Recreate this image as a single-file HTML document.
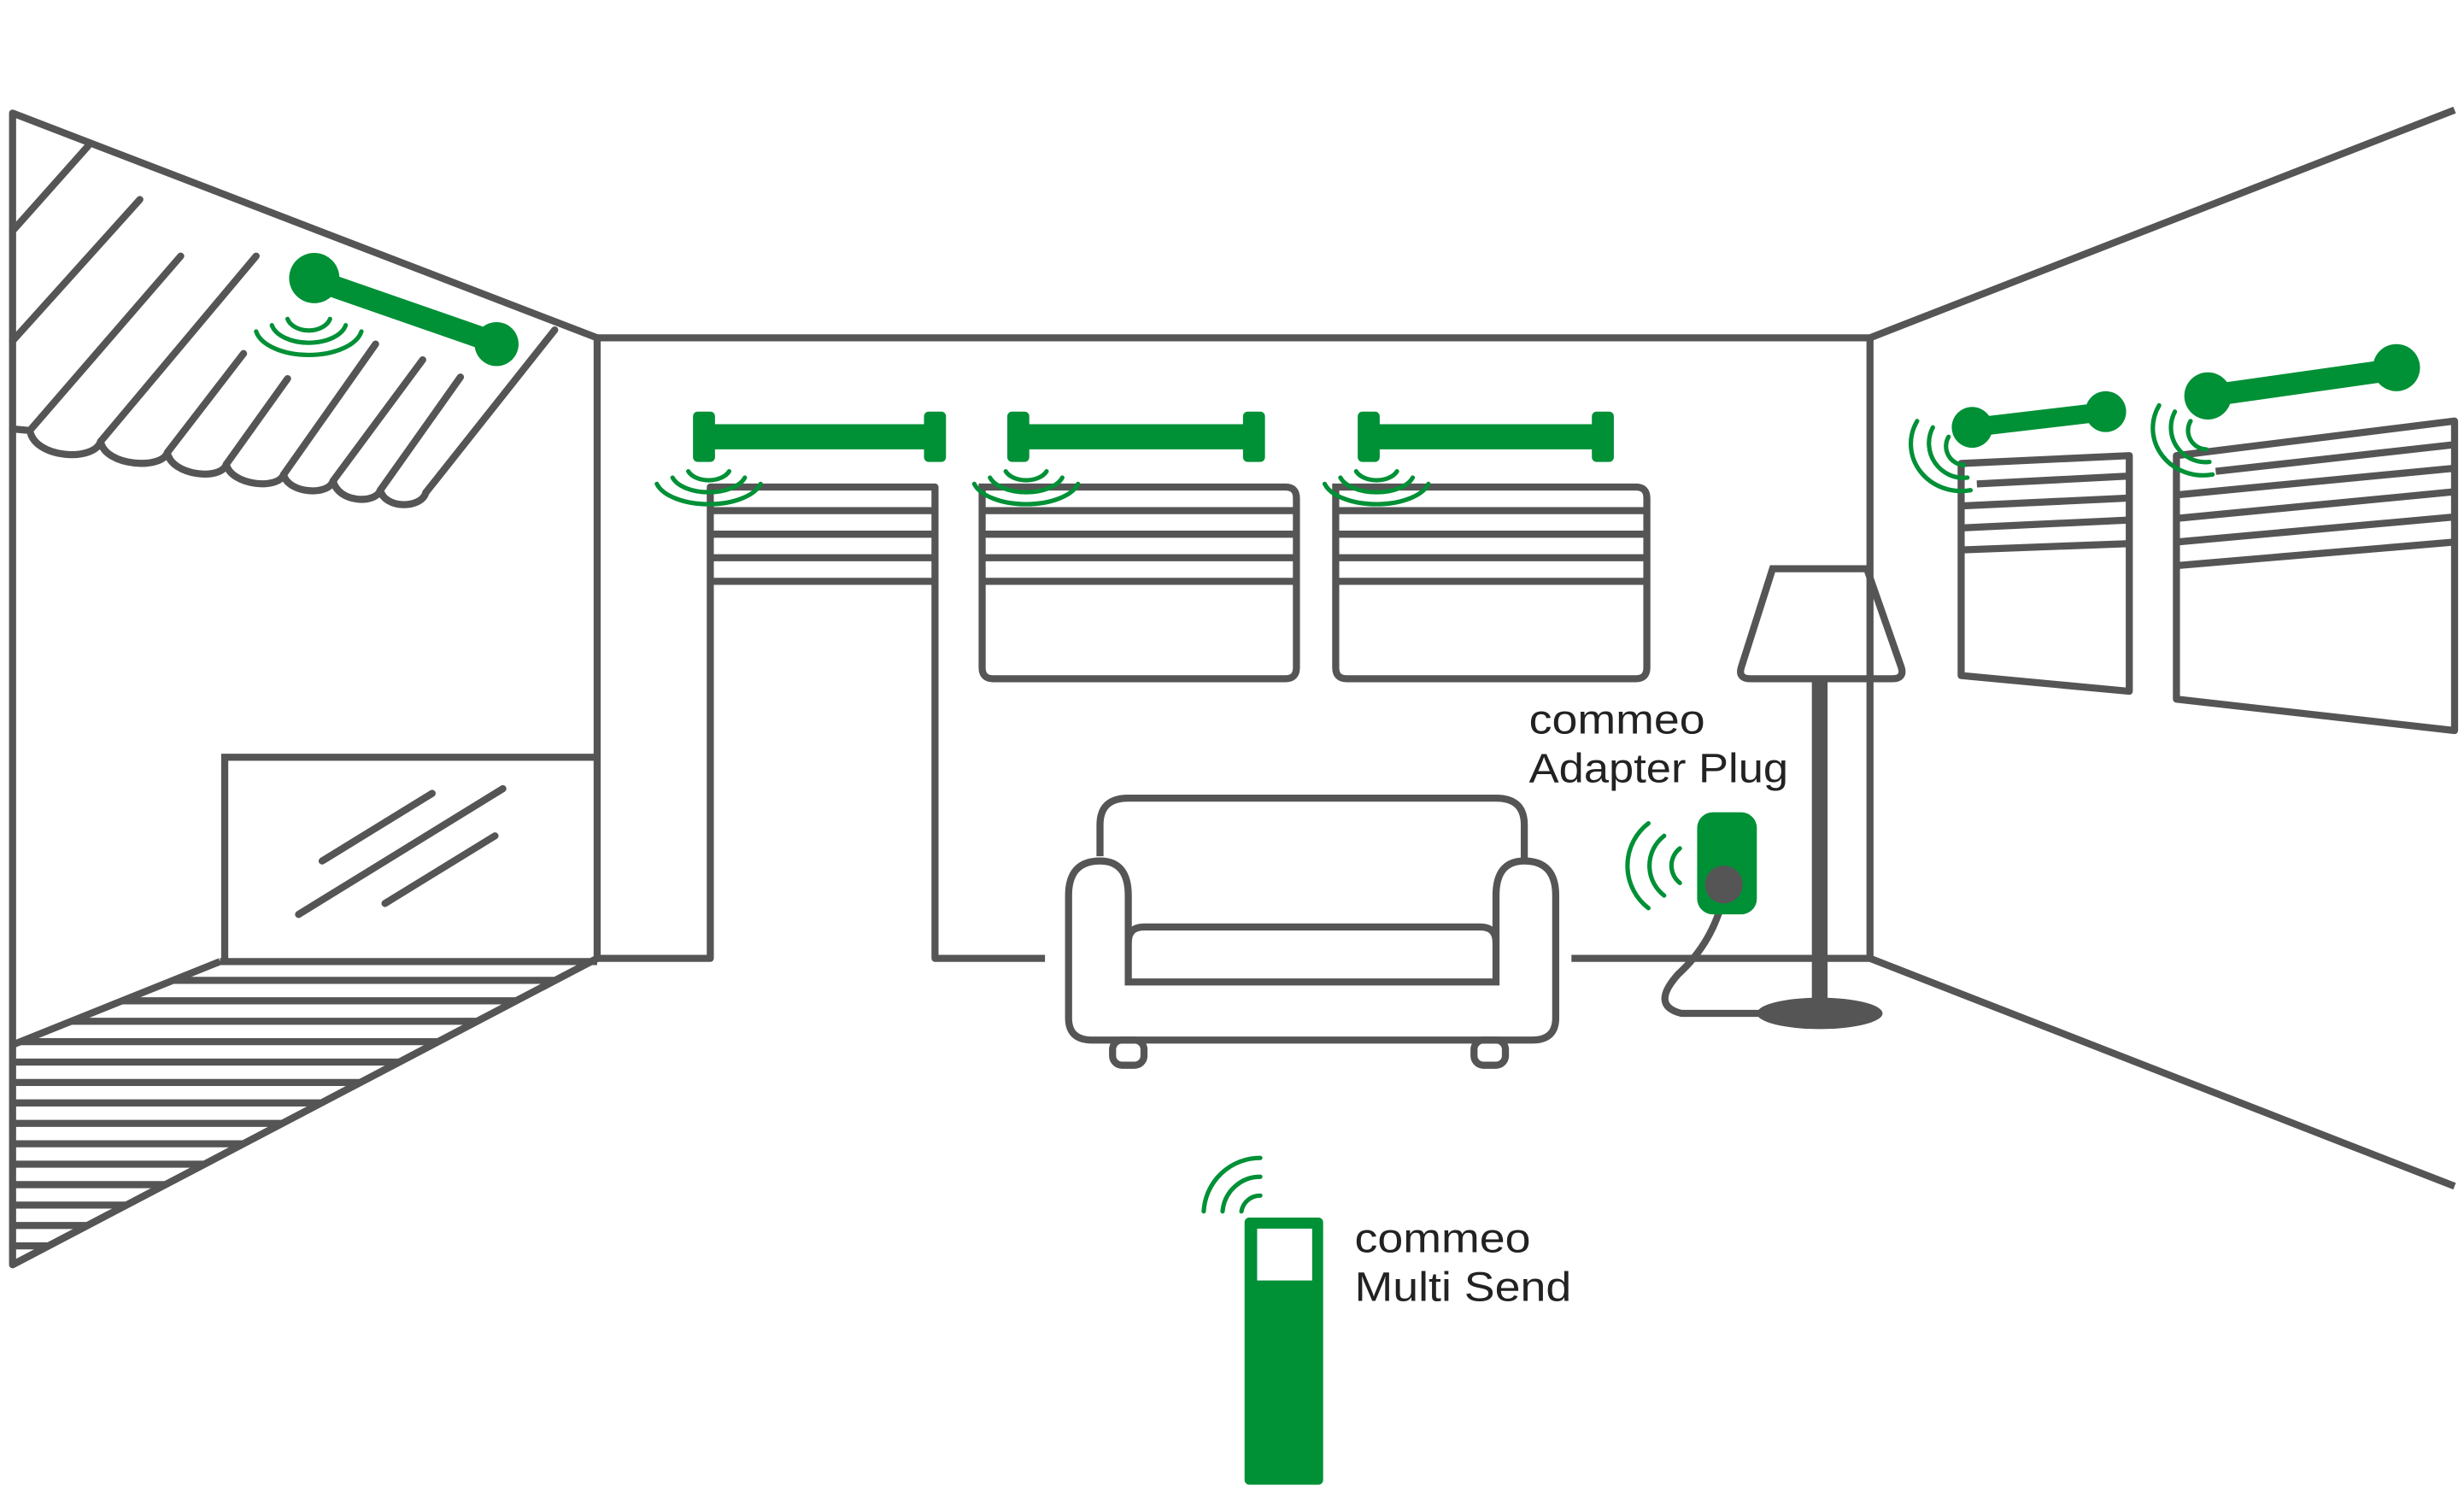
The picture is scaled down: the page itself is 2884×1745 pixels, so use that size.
<!DOCTYPE html>
<html><head><meta charset="utf-8"><style>
html,body{margin:0;padding:0;background:#fff}
svg{display:block}
text{font-family:"Liberation Sans",sans-serif;fill:#222}
</style></head><body>
<svg width="2884" height="1745" viewBox="0 0 1568 949" preserveAspectRatio="none" xmlns="http://www.w3.org/2000/svg">
<g fill="none" stroke="#555" stroke-width="4.5" stroke-linecap="round" stroke-linejoin="round">
<!-- room -->
<polyline points="380,215 8,72 8,805 380,610" stroke-linecap="butt"/>
<polyline points="380,610 380,215 1190,215 1190,610" stroke-linecap="butt"/>
<polyline points="1190,215 1562,70" stroke-linecap="butt"/>
<polyline points="1190,610 1562,755" stroke-linecap="butt"/>
<polyline points="380,610 452,610 452,310 595,310 595,610 665,610" stroke-linecap="butt"/>
<line x1="1000" y1="610" x2="1190" y2="610" stroke-linecap="butt"/>
<!-- skylight -->
<line x1="56" y1="93" x2="8" y2="147"/>
<line x1="89" y1="127" x2="8" y2="217"/>
<line x1="115" y1="163" x2="19" y2="274"/>
<line x1="163" y1="163" x2="64" y2="281"/>
<line x1="155" y1="225" x2="106.5" y2="288"/>
<line x1="183" y1="241" x2="144" y2="295.5"/>
<line x1="239" y1="219" x2="180.5" y2="302"/>
<line x1="269" y1="229" x2="212" y2="306"/>
<line x1="293" y1="240" x2="242" y2="312"/>
<line x1="353" y1="210" x2="271" y2="313.5"/>
<path d="M8,273 L19,274 C22,292 60,294 64,281 C67,297 103,299 106.5,288 C109,303 141,306 144,295.5 C147,309 177,312 180.5,302 C183,314 209,316 212,306 C215,320 239,321 242,312 C245,324 268,324 271,313.5"/>
</g>
<!-- left window -->
<g fill="none" stroke="#555" stroke-width="4.5" stroke-linecap="round">
<polyline points="380,482 143,482 143,610" stroke-linecap="butt"/>
<line x1="205" y1="548" x2="275" y2="505"/>
<line x1="190" y1="582" x2="320" y2="502"/>
<line x1="245" y1="575" x2="315" y2="532"/>
</g>
<!-- floor hatch -->
<defs><clipPath id="fc"><polygon points="8,665 140,612 380,612 8,805"/></clipPath></defs>
<g stroke="#555" stroke-width="4.5" fill="none">
<line x1="8" y1="665" x2="140" y2="612"/>
<line x1="140" y1="612" x2="380" y2="612"/>
<line x1="8" y1="805" x2="380" y2="610"/>
<g clip-path="url(#fc)">
<line x1="0" y1="624" x2="400" y2="624"/><line x1="0" y1="637" x2="400" y2="637"/><line x1="0" y1="650" x2="400" y2="650"/><line x1="0" y1="663" x2="400" y2="663"/><line x1="0" y1="676" x2="400" y2="676"/><line x1="0" y1="689" x2="400" y2="689"/><line x1="0" y1="702" x2="400" y2="702"/><line x1="0" y1="715" x2="400" y2="715"/><line x1="0" y1="728" x2="400" y2="728"/><line x1="0" y1="741" x2="400" y2="741"/><line x1="0" y1="754" x2="400" y2="754"/><line x1="0" y1="767" x2="400" y2="767"/><line x1="0" y1="780" x2="400" y2="780"/><line x1="0" y1="793" x2="400" y2="793"/>
</g>
</g>
<!-- windows back wall -->
<g fill="none" stroke="#555" stroke-width="4.5">
<path d="M625,310 H818 Q825,310 825,317 V425 Q825,432 818,432 H632 Q625,432 625,425 Z"/>
<path d="M850,310 H1041 Q1048,310 1048,317 V425 Q1048,432 1041,432 H857 Q850,432 850,425 Z"/>
<path d="M452,325H595M452,340H595M452,355H595M452,370H595"/>
<path d="M625,325H825M625,340H825M625,355H825M625,370H825"/>
<path d="M850,325H1048M850,340H1048M850,355H1048M850,370H1048"/>
<!-- right wall windows -->
<polygon points="1248,295 1355,290 1355,440 1248,430" stroke-linejoin="round"/>
<polygon points="1385,290 1562,268 1562,465 1385,445" stroke-linejoin="round"/>
<path d="M1258,308L1355,303M1248,322L1355,317M1248,336L1355,331M1248,350L1355,346"/>
<path d="M1410,300L1562,283M1385,315L1562,298M1385,330L1562,313M1385,345L1562,329M1385,360L1562,345"/>
<!-- sofa -->
<path d="M700,545 V525 Q700,508 718,508 H952 Q970,508 970,525 V548"/>
<path d="M700,548 Q680,548 680,570 V648 Q680,662 695,662 H975 Q990,662 990,648 V570 Q990,548 970,548 Q952,548 952,570 V625 H718 V570 Q718,548 700,548 Z"/>
<path d="M718,600 Q718,590 728,590 H942 Q952,590 952,600"/>
<rect x="708" y="662" width="20" height="16" rx="6"/>
<rect x="938" y="662" width="20" height="16" rx="6"/>
<!-- lamp shade -->
<path d="M1128,362 H1188 L1210,425 Q1212,432 1204,432 H1114 Q1106,432 1108,425 Z"/>
<path d="M1097,570 Q1090,600 1068,620 Q1050,640 1070,645 L1120,645"/>
</g>
<rect x="1153" y="432" width="10" height="210" fill="#555"/>
<ellipse cx="1158" cy="645" rx="40" ry="10" fill="#555"/>
<!-- green motors -->
<g fill="#009036">
<rect x="445" y="270" width="155" height="16"/><rect x="441" y="262" width="14" height="32" rx="3"/><rect x="588" y="262" width="14" height="32" rx="3"/>
<rect x="645" y="270" width="158" height="16"/><rect x="641" y="262" width="14" height="32" rx="3"/><rect x="791" y="262" width="14" height="32" rx="3"/>
<rect x="868" y="270" width="157" height="16"/><rect x="864" y="262" width="14" height="32" rx="3"/><rect x="1013" y="262" width="14" height="32" rx="3"/>
<rect x="1080" y="517" width="38" height="65" rx="10"/>
<rect x="792" y="775" width="50" height="170" rx="3"/>
</g>
<g stroke="#009036" stroke-linecap="round">
<line x1="200" y1="178" x2="315" y2="218" stroke-width="14"/>
<circle cx="200" cy="177" r="16" fill="#009036" stroke="none"/>
<circle cx="316" cy="219" r="14" fill="#009036" stroke="none"/>
<line x1="1255" y1="272" x2="1340" y2="262" stroke-width="12"/>
<circle cx="1255" cy="272" r="13" fill="#009036" stroke="none"/>
<circle cx="1340" cy="262" r="13" fill="#009036" stroke="none"/>
<line x1="1405" y1="252" x2="1525" y2="235" stroke-width="14"/>
<circle cx="1405" cy="252" r="15" fill="#009036" stroke="none"/>
<circle cx="1525" cy="234" r="15" fill="#009036" stroke="none"/>
</g>
<rect x="800" y="782" width="35" height="33" fill="#fff"/>
<circle cx="1097" cy="563" r="12" fill="#555"/>
<!-- signal arcs -->
<g fill="none" stroke="#009036" stroke-width="2.8" stroke-linecap="round">
<g transform="translate(195,205)"><path d="M-12,-2 A14,10 0 0 0 15,-2"/><path d="M-22,2 A24,14 0 0 0 25,2"/><path d="M-32,6 A34,18 0 0 0 35,6"/></g>
<g transform="translate(450,300)"><path d="M-12,0 A14,9 0 0 0 14,0"/><path d="M-22,4 A24,13 0 0 0 24,4"/><path d="M-32,8 A34,17 0 0 0 34,8"/></g>
<g transform="translate(652,300)"><path d="M-12,0 A14,9 0 0 0 14,0"/><path d="M-22,4 A24,13 0 0 0 24,4"/><path d="M-32,8 A34,17 0 0 0 34,8"/></g>
<g transform="translate(875,300)"><path d="M-12,0 A14,9 0 0 0 14,0"/><path d="M-22,4 A24,13 0 0 0 24,4"/><path d="M-32,8 A34,17 0 0 0 34,8"/></g>
<g transform="translate(1248,288)"><path d="M-8,-10 A12,12 0 0 0 2,8"/><path d="M-18,-16 A22,22 0 0 0 4,16"/><path d="M-28,-20 A32,30 0 0 0 6,24"/></g>
<g transform="translate(1402,278)"><path d="M-8,-10 A12,12 0 0 0 2,8"/><path d="M-18,-16 A22,22 0 0 0 4,16"/><path d="M-28,-20 A32,30 0 0 0 6,24"/></g>
<g transform="translate(1075,550)"><path d="M-6,-10 A14,14 0 0 0 -6,12"/><path d="M-16,-18 A24,24 0 0 0 -16,20"/><path d="M-26,-26 A34,34 0 0 0 -26,28"/></g>
<g transform="translate(800,775)"><path d="M-10,-4 A12,12 0 0 1 2,-14"/><path d="M-22,-4 A24,24 0 0 1 2,-26"/><path d="M-34,-4 A36,36 0 0 1 2,-38"/></g>
</g>
<text x="973" y="467" font-size="26" textLength="112" lengthAdjust="spacingAndGlyphs">commeo</text>
<text x="973" y="498" font-size="26" textLength="165" lengthAdjust="spacingAndGlyphs">Adapter Plug</text>
<text x="862" y="797" font-size="26" textLength="112" lengthAdjust="spacingAndGlyphs">commeo</text>
<text x="862" y="828" font-size="26" textLength="138" lengthAdjust="spacingAndGlyphs">Multi Send</text>
</svg>
</body></html>
